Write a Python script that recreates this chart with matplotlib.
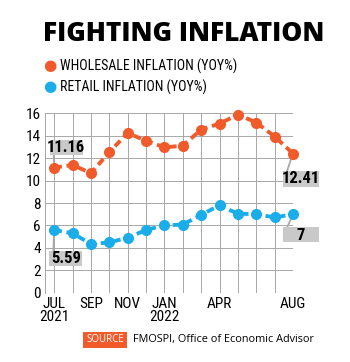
import matplotlib
matplotlib.use("Agg")
import matplotlib.pyplot as plt
import matplotlib.transforms as mtransforms
from matplotlib.patches import Rectangle
import numpy as np

# data
months = ["JUL", "AUG", "SEP", "OCT", "NOV", "DEC", "JAN", "FEB", "MAR",
          "APR", "MAY", "JUN", "JUL", "AUG"]
wholesale = [11.16, 11.39, 10.66, 12.54, 14.23, 13.56, 12.96, 13.11, 14.55,
             15.08, 15.88, 15.18, 13.93, 12.41]
retail = [5.59, 5.30, 4.35, 4.48, 4.91, 5.59, 6.01, 6.07, 6.95,
          7.79, 7.04, 7.01, 6.71, 7.00]
tick_pos = [0, 2, 4, 6, 9, 13]
tick_labels = ["JUL\n2021", "SEP", "NOV", "JAN\n2022", "APR", "AUG"]
y_ticks = [0, 2, 4, 6, 8, 10, 12, 14, 16]

ORANGE = "#f15a2b"
BLUE = "#1badea"
GRID = "#a8a8a8"
BOX = "#c9c9c9"
NARROW = ["Roboto Condensed", "Liberation Sans Narrow", "DejaVu Sans"]

fig = plt.figure(figsize=(3.5, 3.62), dpi=100)
fig.patch.set_facecolor("white")

ax = fig.add_axes([0.1286, 0.1914, 0.7086, 0.4956])
x = np.arange(len(months))

ax.plot(x, wholesale, color=ORANGE, lw=2.8, ls=(0, (2.0, 1.2)),
        marker="o", ms=7, zorder=3, clip_on=False)
ax.plot(x, retail, color=BLUE, lw=2.8, ls=(0, (2.0, 1.2)),
        marker="o", ms=7, zorder=3, clip_on=False)

ax.set_xlim(-0.5, 13)
ax.set_ylim(0, 16)
ax.set_yticks(y_ticks)
ax.set_xticks(x, minor=True)
ax.set_xticks(tick_pos)
ax.set_xticklabels(tick_labels, linespacing=0.95)
ax.grid(True, which="both", color=GRID, lw=0.7)
ax.tick_params(which="both", length=0, pad=3, labelsize=11)
for lab in ax.get_xticklabels() + ax.get_yticklabels():
    lab.set_family(NARROW)
    lab.set_stretch("condensed")
for side in ["top", "right", "bottom"]:
    ax.spines[side].set_visible(False)
ax.spines["left"].set_color(GRID)
ax.spines["left"].set_linewidth(0.7)
ax.set_axisbelow(True)


def callout(i, val, text, dx, dy, w, h):
    # box sized in points, anchored at the data point
    tr = (mtransforms.Affine2D().scale(1 / 72.) + fig.dpi_scale_trans
          + mtransforms.ScaledTranslation(i, val, ax.transData))
    ax.add_patch(Rectangle((dx - w / 2, dy - h / 2), w, h, transform=tr,
                           fc=BOX, ec="none", zorder=4, clip_on=False))
    ax.plot([0, dx - w / 2 + 3], [0, dy + (h / 2 if dy < 0 else -h / 2)],
            transform=tr, color=GRID, lw=1.3, zorder=2, clip_on=False)
    ax.text(dx, dy - 0.3, text, transform=tr, ha="center", va="center",
            fontsize=12, fontweight="bold", color="black", zorder=5,
            family=NARROW, stretch="condensed")


callout(0, wholesale[0], "11.16", 8.6, 14.4, 23.8, 10.8)
callout(13, wholesale[-1], "12.41", 5.8, -18, 26, 11.5)
callout(0, retail[0], "5.59", 8.3, -20.5, 23.8, 10.8)
callout(13, retail[-1], "7", 5.8, -14.8, 26, 10.8)

# title and legend
fig.text(0.526, 0.905, "FIGHTING INFLATION", ha="center", va="center",
         fontsize=19, fontweight=800,
         family=["Open Sans", "DejaVu Sans"])
fig.text(0.143, 0.818, "\u25CF", color=ORANGE, fontsize=11, va="center",
         ha="center")
fig.text(0.171, 0.818, "WHOLESALE INFLATION (YOY%)", fontsize=10,
         va="center", family=NARROW, stretch="condensed")
fig.text(0.143, 0.760, "\u25CF", color=BLUE, fontsize=11, va="center",
         ha="center")
fig.text(0.171, 0.760, "RETAIL INFLATION (YOY%)", fontsize=10,
         va="center", family=NARROW, stretch="condensed")

# source line
fig.text(0.300, 0.061, "SOURCE", color="white", fontsize=7, ha="center",
         va="center", family=["Open Sans", "DejaVu Sans"],
         bbox=dict(boxstyle="square,pad=0.3", fc=ORANGE, ec="none"))
fig.text(0.38, 0.061, "FMOSPI, Office of Economic Advisor", fontsize=7.8,
         va="center", family=["Open Sans", "DejaVu Sans"])

fig.savefig("out.png", dpi=100)
